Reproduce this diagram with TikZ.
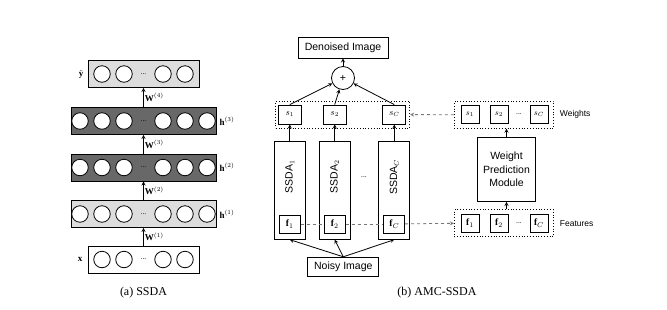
\documentclass[tikz,border=0pt]{standalone}
\usepackage{amssymb, amsmath}
\usepackage{fontspec}
\setmainfont{Liberation Serif}
\setsansfont{Liberation Sans}
\usepackage{tikz}
\usetikzlibrary{positioning}
\definecolor{hidden}{RGB}{104, 104, 104}
\definecolor{visible}{RGB}{221, 221, 221}
\definecolor{link}{RGB}{118, 118, 118}
\newcommand*{\lh}{27}
\newcommand*{\boxfont}{\sffamily\fontsize{10.5}{13.3}\selectfont}

\begin{document}
\begin{tikzpicture}[
   x=1pt, y=-1pt,
   layer/.style={rectangle, draw=black, line width=0.8, inner sep=0,
                 minimum height=\lh},
   inlayer/.style={layer, fill=white, minimum width=111},
   vislayer/.style={layer, fill=visible, minimum width=145},
   hidlayer/.style={layer, fill=hidden, minimum width=145},
   outlayer/.style={layer, fill=visible, minimum width=111},
   unit/.style={circle, draw=black, fill=white, line width=0.8, inner sep=0,
                minimum size=16.5},
   dotsty/.style={font=\fontsize{7.5}{8}\selectfont, inner sep=0},
   wlab/.style={font=\fontsize{9}{10}\selectfont, inner sep=1},
   box/.style={rectangle, draw=black, fill=white, line width=0.8, inner sep=0,
               font=\boxfont},
   wbox/.style={box, minimum width=23, minimum height=19,
                font=\fontsize{9}{10}\selectfont},
   sbox/.style={box, minimum width=18, minimum height=18,
                font=\fontsize{8.5}{9}\selectfont},
   column/.style={box, minimum width=31, minimum height=97.5},
   group/.style={rectangle, draw=black, dotted, line width=0.8, inner sep=0,
                 minimum width=99, minimum height=27},
   arr/.style={->, >=stealth, line width=0.8},
   dasharr/.style={->, >=stealth, dashed, color=link, line width=0.8},
   side/.style={font=\sffamily\fontsize{8.5}{10}\selectfont, inner sep=0},
   caption/.style={font=\fontsize{12}{14}\selectfont}
  ]

  \useasboundingbox (0, 0) rectangle (667, 309);

  % (a) stacked layers
  \foreach \n/\y/\s in {yh/74/outlayer, h3/121/hidlayer, h2/167.5/hidlayer,
                        h1/214/vislayer, x/259.5/inlayer} {
    \node (\n) at (143.5, \y) [\s] {};
  }

  \foreach \n in {h3, h2, h1} {
    \foreach \i/\dx in {1/-63.5, 2/-41.5, 3/-19.5, 4/19.5, 5/41.5, 6/63.5} {
      \node (\n-\i) at ([xshift=\dx]\n.center) [unit] {};
    }
    \node (\n-dots) at (\n) [dotsty] {...};
  }

  \foreach \n in {yh, x} {
    \foreach \i/\dx in {1/-41.5, 2/-19.5, 3/19.5, 4/41.5} {
      \node (\n-\i) at ([xshift=\dx]\n.center) [unit] {};
    }
    \node (\n-dots) at (\n) [dotsty] {...};
  }

  \foreach \B/\E/\w in {x/h1/1, h1/h2/2, h2/h3/3, h3/yh/4} {
    \draw[arr] (\B) -- (\E) node[midway, right, wlab] {$\mathbf{W}^{(\w)}$};
  }

  \node (yl) [left=3pt of yh, wlab] {$\hat{\mathbf{y}}$};
  \node (xl) [left=4pt of x, wlab] {$\mathbf{x}$};
  \foreach \n/\k in {h3/3, h2/2, h1/1} {
    \node (\n-l) [right=2pt of \n, wlab] {$\mathbf{h}^{(\k)}$};
  }

  \node (capa) at (143.5, 293) [caption] {(a) SSDA};

  % (b) columns, weights and fusion
  \node (den) at (343, 47.5) [box, minimum width=90, minimum height=21] {Denoised Image};
  \node (plus) at (343, 78) [circle, draw=black, line width=0.8, inner sep=0,
                             minimum size=23, font=\boxfont] {+};

  \node (sgrp) at (342.8, 114.6) [group, minimum width=134] {};
  \node (noisy) at (343.3, 266.7) [box, minimum width=71, minimum height=19] {Noisy Image};

  \foreach \i/\cx/\k in {1/289.8/1, 2/334.7/2, C/394.3/C} {
    \node (c\i) at (\cx, 190.5) [column] {};
    \node (t\i) at (\cx, 177) [rotate=90, font=\boxfont, inner sep=0] {SSDA$_{\k}$};
    \node (f\i) at (\cx, 224) [box, minimum width=21, minimum height=18,
                               font=\fontsize{9.5}{10}\selectfont] {$\mathbf{f}_{\k}$};
    \node (s\i) at (\cx, 114.5) [wbox] {$s_{\k}$};
    \draw[arr] (c\i) -- (s\i);
    \draw[arr] (s\i.north) -- (plus);
    \draw[arr] (noisy.north) -- (c\i.south);
  }
  \node (cdots) at (364, 177) [dotsty] {...};
  \draw[arr] (plus) -- (den);

  % weight prediction branch
  \node (wgrp) at (503.8, 114.7) [group] {};
  \node (fgrp) at (503.8, 223.3) [group] {};
  \foreach \i/\cx/\k in {1/470/1, 2/499/2, C/539/C} {
    \node (ws\i) at (\cx, 114.5) [sbox] {$s_{\k}$};
    \node (wf\i) at (\cx, 223) [sbox, font=\fontsize{9.5}{10}\selectfont] {$\mathbf{f}_{\k}$};
  }
  \node (wsdots) at (519, 114.5) [dotsty] {...};
  \node (wfdots) at (519, 223) [dotsty] {...};

  \node (wpm) at (506.5, 169.5) [box, minimum width=58, minimum height=64,
                                 align=center] {Weight\\Prediction\\Module};
  \draw[arr] (fgrp.north -| wpm) -- (wpm);
  \draw[arr] (wpm) -- (wpm |- wgrp.south);

  \node (wl) [right=6pt of wgrp, side] {Weights};
  \node (fl) [right=6pt of fgrp, side] {Features};

  \foreach \B/\E in {f1/f2, f2/fC} {
    \draw[dashed, color=link, line width=0.8] (\B) -- (\E);
  }
  \draw[dasharr] (fC) -- (fgrp.west);
  \draw[dasharr] (wgrp.west) -- (sgrp.east);

  \node (capb) at (437, 293) [caption] {(b) AMC-SSDA};

\end{tikzpicture}
\end{document}
